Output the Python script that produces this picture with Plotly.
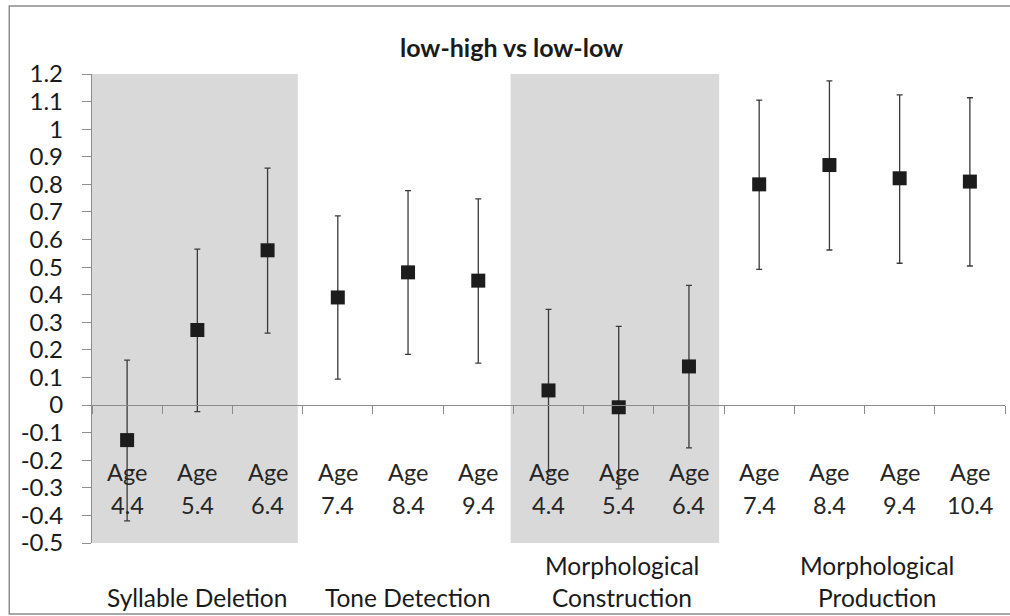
import plotly.graph_objects as go

# ---- data ----
groups = ["Syllable Deletion", "Tone Detection", "Morphological\nConstruction", "Morphological\nProduction"]
group_sizes = [3, 3, 3, 4]
group_label_pos = [1.0, 4.0, 7.05, 10.68]
age_word = "Age"
ages = ["4.4", "5.4", "6.4", "7.4", "8.4", "9.4",
        "4.4", "5.4", "6.4",
        "7.4", "8.4", "9.4", "10.4"]
values = [-0.127, 0.272, 0.561, 0.390, 0.481, 0.451, 0.053, -0.008, 0.140, 0.800, 0.870, 0.822, 0.810]
err_plus = [0.290, 0.293, 0.298, 0.296, 0.296, 0.296, 0.294, 0.293, 0.294, 0.305, 0.305, 0.302, 0.304]
err_minus = [0.293, 0.296, 0.300, 0.296, 0.297, 0.299, 0.294, 0.296, 0.295, 0.308, 0.308, 0.308, 0.306]
shaded_groups = [0, 2]
y_ticks = [1.2, 1.1, 1.0, 0.9, 0.8, 0.7, 0.6, 0.5, 0.4, 0.3, 0.2, 0.1, 0.0,
           -0.1, -0.2, -0.3, -0.4, -0.5]
y_tick_text = ["1.2", "1.1", "1", "0.9", "0.8", "0.7", "0.6", "0.5", "0.4", "0.3", "0.2", "0.1", "0",
               "-0.1", "-0.2", "-0.3", "-0.4", "-0.5"]
title = "low-high vs low-low"

FONT = "Lato"
TXT = "#1a1a1a"

x = list(range(len(values)))
ymin, ymax = -0.5, 1.2

fig = go.Figure()
fig.add_trace(go.Scatter(
    x=x, y=values, mode="markers",
    marker=dict(symbol="square", size=14, color="#1c1c1c", line=dict(width=0)),
    error_y=dict(type="data", symmetric=False, array=err_plus, arrayminus=err_minus,
                 color="#3a3a3a", thickness=1.3, width=3),
    showlegend=False, cliponaxis=False,
))

# shaded group bands
starts = [sum(group_sizes[:i]) for i in range(len(group_sizes))]
shapes = []
for gi in shaded_groups:
    s = starts[gi]
    e = s + group_sizes[gi]
    shapes.append(dict(type="rect", xref="x", yref="y", x0=s - 0.5 - 0.04, x1=e - 0.5 - 0.07,
                       y0=ymin, y1=ymax, fillcolor="#d9d9d9", line=dict(width=0), layer="below"))
# outer chart border
shapes.append(dict(type="rect", xref="paper", yref="paper", x0=-0.0906, x1=1.02, y0=-0.1514, y1=1.145,
                   line=dict(color="#8c8c8c", width=1.5), fillcolor="rgba(0,0,0,0)", layer="above"))

annotations = []
for i, lab in enumerate(ages):
    annotations.append(dict(x=i, y=-0.243, xref="x", yref="y", text=age_word, showarrow=False,
                            font=dict(family=FONT, size=23.5, color="#262626"), yanchor="middle"))
    annotations.append(dict(x=i, y=-0.362, xref="x", yref="y", text=lab, showarrow=False,
                            font=dict(family=FONT, size=23.5, color="#262626"), yanchor="middle"))
for gi, g in enumerate(groups):
    lines = g.split("\n")
    ys = [-0.116] if len(lines) == 1 else [-0.047, -0.116]
    for ln, yy in zip(lines, ys):
        annotations.append(dict(x=group_label_pos[gi], y=yy, xref="x", yref="paper",
                                text=ln, showarrow=False, yanchor="middle",
                                font=dict(family=FONT, size=24.5, color=TXT)))
annotations.append(dict(x=0.459, y=1.0576, xref="paper", yref="paper", text="<b>" + title + "</b>",
                        showarrow=False, yanchor="middle",
                        font=dict(family=FONT, size=25, color=TXT)))

fig.update_layout(
    width=1010, height=616,
    margin=dict(l=92, r=5, t=74, b=73),
    paper_bgcolor="white", plot_bgcolor="rgba(0,0,0,0)",
    shapes=shapes, annotations=annotations,
    xaxis=dict(range=[-0.5, len(values) - 0.5], showgrid=False, zeroline=False,
               showline=True, linecolor="#8c8c8c", linewidth=1.3,
               anchor="free", position=(0 - ymin) / (ymax - ymin),
               ticks="outside", tickmode="linear", tick0=-0.5, dtick=1, ticklen=8,
               tickcolor="#8c8c8c", tickwidth=1.3, showticklabels=False),
    yaxis=dict(range=[ymin, ymax], showgrid=False, zeroline=False,
               showline=True, linecolor="#8c8c8c", linewidth=1.3,
               ticks="outside", ticklen=9, tickcolor="#8c8c8c", tickwidth=1.3,
               tickmode="array", tickvals=y_ticks, ticktext=y_tick_text,
               ticklabelstandoff=14,
               tickfont=dict(family=FONT, size=24, color=TXT)),
)

fig.write_html("out.html", config={"displayModeBar": False},
               post_script="document.body.style.margin='0';document.body.style.overflow='hidden';")
